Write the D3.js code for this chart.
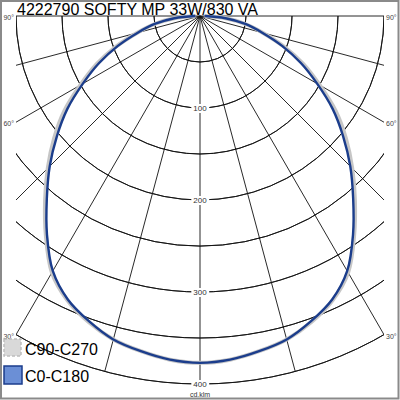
<!DOCTYPE html>
<meta charset="utf-8">
<head>
  <script src="https://d3js.org/d3.v7.min.js"></script>
  <style>
    body { margin: 0; background: #fff; font-family: Arial, 'Liberation Sans', sans-serif; }
  </style>
</head>
<body>
  <div id="my_dataviz"></div>
<script>
  // photometric data, cd/klm, gamma 0..90 (symmetric)
  const gammas = [0, 5, 10, 15, 20, 25, 30, 35, 40, 45, 50, 55, 60, 65, 70, 75, 80, 85, 90];
  const c0_c180 = [377, 375, 370, 364, 353, 340, 320, 290, 259, 231, 203, 176, 147, 121, 95, 70, 50, 28, 5];
  const c90_c270 = [377, 375, 370, 364, 354, 341, 322, 292, 262, 234, 207, 180, 150, 124, 97, 71, 50, 28, 5];
  const ring_values = [50, 100, 150, 200, 250, 300, 350, 400];
  const ring_labels = [100, 200, 300, 400];
  const spoke_angles = [-90, -75, -60, -45, -30, -15, 0, 15, 30, 45, 60, 75, 90];
  const angle_labels = [90, 60, 30];
  const title = "4222790 SOFTY MP 33W/830 VA";
  const series_names = ["C90-C270", "C0-C180"];

  const W = 400, H = 400;
  const cx = 200, cy = 16;
  const box = { x0: 16, x1: 384, y0: 16, y1: 384 };

  var svg = d3.select("#my_dataviz").append("svg")
    .attr("width", W).attr("height", H);

  svg.append("rect").attr("x", 0).attr("y", 0).attr("width", W).attr("height", H).attr("fill", "#fff");

  svg.append("defs").append("clipPath").attr("id", "plotclip")
    .append("rect")
    .attr("x", box.x0).attr("y", box.y0 - 1)
    .attr("width", box.x1 - box.x0).attr("height", box.y1 - box.y0 + 2);

  var r = d3.scaleLinear().domain([0, 400]).range([0, 368]);
  var rad = d => d * Math.PI / 180;

  var g = svg.append("g").attr("transform", "translate(" + cx + "," + cy + ")");
  var grid = g.append("g").attr("clip-path", "url(#plotclip)")
    .attr("transform", "translate(" + (-cx) + "," + (-cy) + ")")
    .append("g").attr("transform", "translate(" + cx + "," + cy + ")");

  // rings (lower half only)
  var arc = d3.arc().startAngle(rad(90)).endAngle(rad(270));
  grid.selectAll(".ring")
    .data(ring_values)
    .enter().append("path")
    .attr("d", d => arc({ innerRadius: r(d), outerRadius: r(d) }))
    .attr("fill", "none")
    .attr("stroke", "#111")
    .attr("stroke-width", 0.9);

  // spokes
  grid.selectAll(".spoke")
    .data(spoke_angles)
    .enter().append("line")
    .attr("x1", 0).attr("y1", 0)
    .attr("x2", d => r(400) * Math.sin(rad(d)))
    .attr("y2", d => r(400) * Math.cos(rad(d)))
    .attr("stroke", "#111")
    .attr("stroke-width", 0.9);

  // curves
  function full_curve(vals) {
    var left = gammas.map((a, i) => [Math.PI + rad(a), r(vals[i])]).reverse();
    var right = gammas.slice(1).map((a, i) => [Math.PI - rad(a), r(vals[i + 1])]);
    return left.concat(right);
  }
  var radial = d3.lineRadial()
    .angle(d => d[0])
    .radius(d => d[1])
    .curve(d3.curveCatmullRom);

  g.append("path")
    .attr("d", radial(full_curve(c90_c270)))
    .attr("fill", "none")
    .attr("stroke", "#c6c6c6")
    .attr("stroke-width", 4);

  g.append("path")
    .attr("d", radial(full_curve(c0_c180)))
    .attr("fill", "none")
    .attr("stroke", "#1b3d8c")
    .attr("stroke-width", 2.4);

  // ring labels on the 0 axis
  ring_labels.forEach(v => {
    var t = g.append("text")
      .attr("x", 0).attr("y", r(v) + 3)
      .attr("text-anchor", "middle")
      .attr("font-size", 8)
      .attr("fill", "#333")
      .text(v);
    var bb = t.node().getBBox();
    g.insert("rect", "text")
      .attr("x", bb.x - 2).attr("y", bb.y)
      .attr("width", bb.width + 4).attr("height", bb.height)
      .attr("fill", "#fff");
  });
  g.append("text")
    .attr("x", 0).attr("y", r(400) + 13)
    .attr("text-anchor", "middle")
    .attr("font-size", 7)
    .attr("fill", "#333")
    .text("cd.klm");

  // angle labels at the frame edge
  angle_labels.forEach(a => {
    var ex = Math.min(r(400) * Math.sin(rad(a)), box.x1 - cx);
    var ey = ex / Math.tan(rad(a));
    if (a === 90) ey = 0;
    [-1, 1].forEach(s => {
      g.append("text")
        .attr("x", s * (ex + 2))
        .attr("y", ey + 4)
        .attr("text-anchor", s < 0 ? "end" : "start")
        .attr("font-size", 7)
        .attr("fill", "#444")
        .text(a + "°");
    });
  });

  // title
  svg.append("text")
    .attr("x", 17).attr("y", 15)
    .attr("font-size", 16)
    .attr("fill", "#000")
    .text(title);

  // legend
  var legend = svg.append("g");
  legend.append("rect")
    .attr("x", 4).attr("y", 339).attr("width", 17).attr("height", 17)
    .attr("fill", "#d9d9d9").attr("stroke", "#bdbdbd").attr("stroke-width", 1.5)
    .attr("stroke-dasharray", "3,2");
  legend.append("rect")
    .attr("x", 4).attr("y", 366).attr("width", 18).attr("height", 18)
    .attr("fill", "#6b8fd6").attr("stroke", "#1b3d8c").attr("stroke-width", 1.5);
  legend.append("text")
    .attr("x", 25).attr("y", 355)
    .attr("font-size", 16)
    .text(series_names[0]);
  legend.append("text")
    .attr("x", 25).attr("y", 382)
    .attr("font-size", 16)
    .text(series_names[1]);

  // outer frame
  svg.append("rect")
    .attr("x", 1).attr("y", 1).attr("width", W - 2.5).attr("height", H - 2.5)
    .attr("fill", "none").attr("stroke", "#8a8a8a").attr("stroke-width", 2);
</script>
</body>
